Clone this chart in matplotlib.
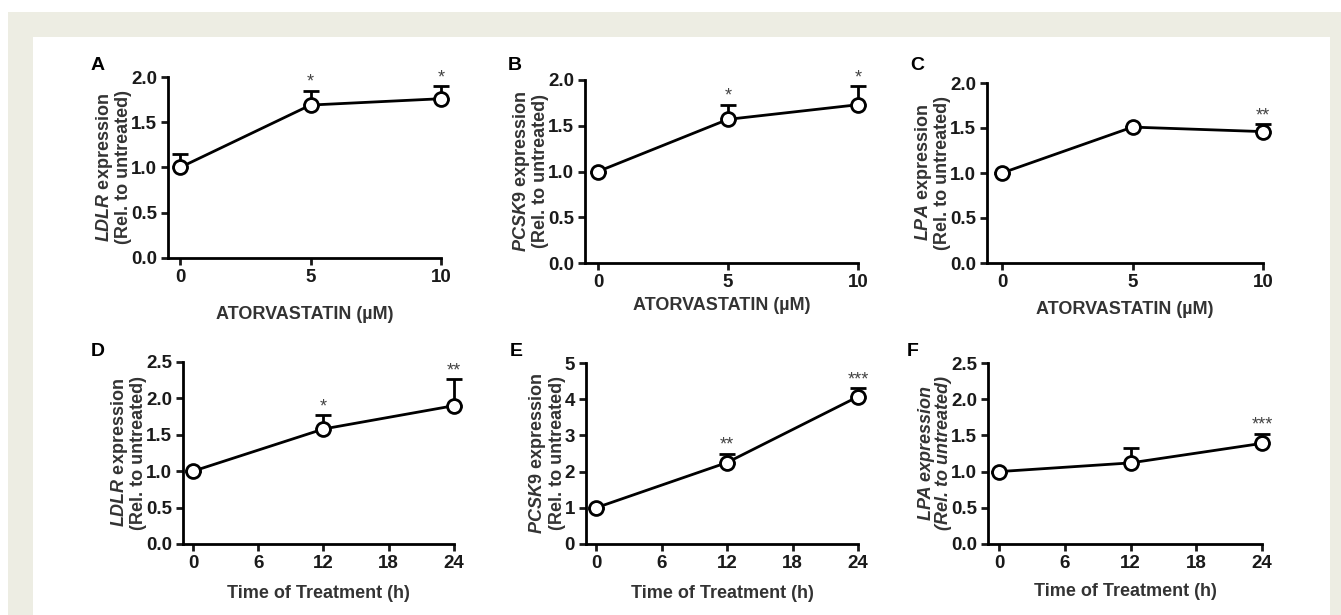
import numpy as np
import matplotlib
matplotlib.use("Agg")
import matplotlib.pyplot as plt

plt.rcParams["font.family"] = ["Liberation Sans", "DejaVu Sans"]
plt.rcParams["mathtext.fontset"] = "custom"
plt.rcParams["mathtext.it"] = "Liberation Sans:italic:bold"
plt.rcParams["mathtext.rm"] = "Liberation Sans:bold"

# ---- data ----
dose = [0, 5, 10]
time_h = [0, 12, 24]

ldlr_dose = [1.00, 1.69, 1.76]
ldlr_dose_err = [0.15, 0.16, 0.14]
pcsk9_dose = [1.00, 1.57, 1.73]
pcsk9_dose_err = [0.0, 0.16, 0.20]
lpa_dose = [1.00, 1.51, 1.46]
lpa_dose_err = [0.0, 0.0, 0.08]

ldlr_time = [1.00, 1.58, 1.90]
ldlr_time_err = [0.0, 0.19, 0.36]
pcsk9_time = [1.00, 2.25, 4.07]
pcsk9_time_err = [0.0, 0.25, 0.23]
lpa_time = [1.00, 1.12, 1.39]
lpa_time_err = [0.0, 0.20, 0.13]

stars_ldlr_dose = ["", "*", "*"]
stars_pcsk9_dose = ["", "*", "*"]
stars_lpa_dose = ["", "", "**"]
stars_ldlr_time = ["", "*", "**"]
stars_pcsk9_time = ["", "**", "***"]
stars_lpa_time = ["", "", "***"]

W, H = 1341, 615
fig = plt.figure(figsize=(W / 100, H / 100), dpi=100)
fig.patch.set_facecolor("white")

# beige frame with white inner panel
frame = plt.Rectangle((8 / W, 0), (W - 8) / W, (H - 12) / H, transform=fig.transFigure,
                      facecolor="#edede3", edgecolor="none", zorder=-10)
inner = plt.Rectangle((33 / W, 0), (1330 - 33) / W, (H - 37) / H, transform=fig.transFigure,
                      facecolor="white", edgecolor="none", zorder=-9)
fig.patches.extend([frame, inner])


def add_axes_px(x0, x1, y_bottom, y_top):
    return fig.add_axes([x0 / W, 1 - y_bottom / H, (x1 - x0) / W, (y_bottom - y_top) / H])


def panel(ax, x, y, err, stars, xticks, ylim, yticks, yfmt, xlabel, gene, letter,
          all_italic=False, xlabelpad=18):
    x0_px, x1_px = ax._px
    span = xticks[-1] - xticks[0]
    left = xticks[0] - (ax._data0 - x0_px) / (x1_px - ax._data0) * span
    ax.set_xlim(left, xticks[-1])
    ax.set_ylim(*ylim)

    ax.errorbar(x, y, yerr=[np.zeros(len(err)), err], fmt="none", ecolor="black",
                elinewidth=2, capsize=5.5, capthick=2, zorder=2, clip_on=False)
    ax.plot(x, y, color="black", lw=2, marker="o", ms=10, mfc="white", mec="black",
            mew=2, zorder=3, clip_on=False)
    for xi, yi, ei, s in zip(x, y, err, stars):
        if s:
            ax.annotate(s, (xi, yi + ei), xytext=(0, 0), textcoords="offset points",
                        ha="center", va="bottom", fontsize=13, color="#444444")

    for side in ("top", "right"):
        ax.spines[side].set_visible(False)
    for side in ("left", "bottom"):
        ax.spines[side].set_linewidth(2)
    ax.spines["bottom"].set_bounds(left, xticks[-1])
    ax.set_xticks(xticks)
    ax.set_yticks(yticks)
    ax.set_yticklabels([yfmt.format(v) for v in yticks])
    ax.tick_params(width=2, length=5, labelsize=13.5, colors="#1a1a1a", pad=3)
    for lab in ax.get_xticklabels() + ax.get_yticklabels():
        lab.set_fontweight("bold")

    ax.set_xlabel(xlabel, fontsize=13, fontweight="bold", color="#333333", labelpad=xlabelpad)
    if all_italic:
        ax.set_ylabel(gene + " expression\n(Rel. to untreated)", fontsize=13,
                      fontweight="bold", fontstyle="italic", color="#333333", labelpad=-1,
                      linespacing=1.05)
    else:
        ax.set_ylabel("$\\it{" + gene + "}$ expression\n(Rel. to untreated)", fontsize=13,
                      fontweight="bold", color="#333333", labelpad=-1, linespacing=1.05)
    fig.text(letter[1] / W, 1 - letter[2] / H, letter[0], fontsize=14, fontweight="bold",
             ha="center", va="center")


# pixel geometry: (spine x, last tick x, x-axis y, top y, first data x)
specs = [
    (168, 441, 258, 77, 180),
    (585, 858, 263, 80, 598),
    (987, 1263, 263, 83, 1002),
    (183, 454, 544, 362, 193),
    (586, 858, 544, 363, 596),
    (988, 1262, 544, 363, 999),
]
axes = []
for sx, ex, yb, yt, d0 in specs:
    a = add_axes_px(sx, ex, yb, yt)
    a._px = (sx, ex)
    a._data0 = d0
    axes.append(a)

dose_ticks = [0, 5, 10]
time_ticks = [0, 6, 12, 18, 24]
y2 = [0.0, 0.5, 1.0, 1.5, 2.0]
y25 = [0.0, 0.5, 1.0, 1.5, 2.0, 2.5]
y5 = [0, 1, 2, 3, 4, 5]
xl_dose = "ATORVASTATIN (µM)"
xl_time = "Time of Treatment (h)"

panel(axes[0], dose, ldlr_dose, ldlr_dose_err, stars_ldlr_dose, dose_ticks, (0, 2.0), y2,
      "{:.1f}", xl_dose, "LDLR", ("A", 98, 66), xlabelpad=14)
panel(axes[1], dose, pcsk9_dose, pcsk9_dose_err, stars_pcsk9_dose, dose_ticks, (0, 2.0), y2,
      "{:.1f}", xl_dose, "PCSK9", ("B", 515, 65), xlabelpad=4)
panel(axes[2], dose, lpa_dose, lpa_dose_err, stars_lpa_dose, dose_ticks, (0, 2.0), y2,
      "{:.1f}", xl_dose, "LPA", ("C", 917, 66), xlabelpad=7)
panel(axes[3], time_h, ldlr_time, ldlr_time_err, stars_ldlr_time, time_ticks, (0, 2.5), y25,
      "{:.1f}", xl_time, "LDLR", ("D", 98, 352), xlabelpad=9)
panel(axes[4], time_h, pcsk9_time, pcsk9_time_err, stars_pcsk9_time, time_ticks, (0, 5), y5,
      "{:d}", xl_time, "PCSK9", ("E", 516, 352), xlabelpad=9)
panel(axes[5], time_h, lpa_time, lpa_time_err, stars_lpa_time, time_ticks, (0, 2.5), y25,
      "{:.1f}", xl_time, "LPA", ("F", 913, 352), all_italic=True, xlabelpad=8)

fig.savefig("out.png", dpi=100)
